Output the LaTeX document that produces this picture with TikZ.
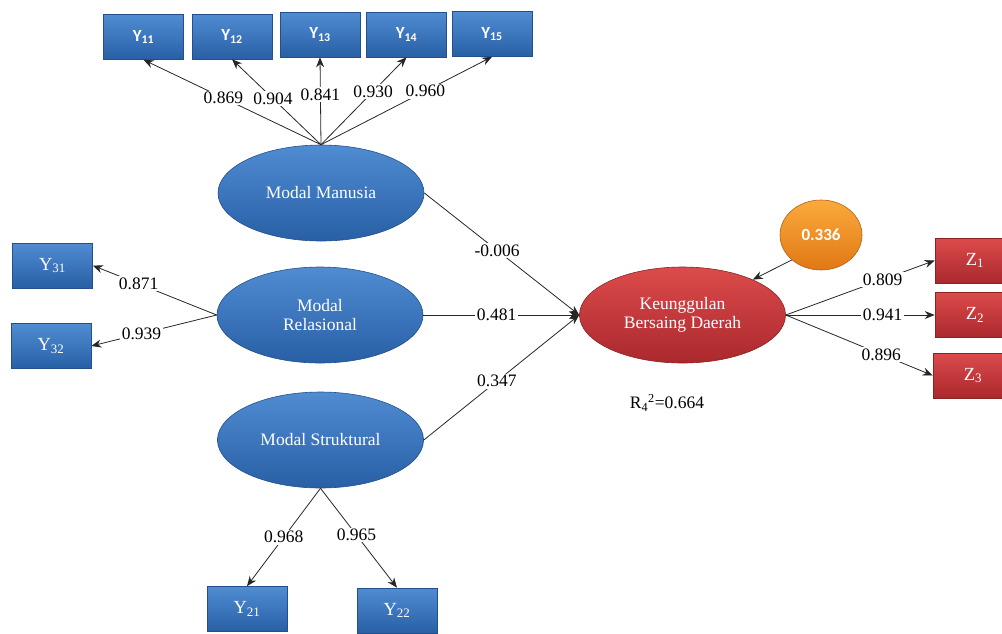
\documentclass[tikz,border=0pt]{standalone}
\usepackage{fontspec}
\setmainfont{Liberation Serif}
\newfontfamily\calib{Carlito}
\usetikzlibrary{shapes.geometric,arrows.meta}
\definecolor{bluetop}{RGB}{80,140,210}
\definecolor{bluebot}{RGB}{40,95,165}
\definecolor{blueedge}{RGB}{35,80,140}
\definecolor{redtop}{RGB}{220,75,75}
\definecolor{redbot}{RGB}{170,40,45}
\definecolor{rededge}{RGB}{140,35,35}
\definecolor{ortop}{RGB}{250,170,60}
\definecolor{orbot}{RGB}{225,120,20}
\tikzset{
  bbox/.style={rectangle, minimum width=80pt, minimum height=45pt, inner sep=0pt,
    top color=bluetop, bottom color=bluebot, draw=blueedge, line width=0.6pt, text=white},
  rbox/.style={rectangle, minimum width=80pt, minimum height=45pt, inner sep=0pt,
    top color=redtop, bottom color=redbot, draw=rededge, line width=0.6pt, text=white,
    font=\fontsize{18.5}{20}\selectfont},
  bfont/.style={font=\calib\bfseries\fontsize{17}{19}\selectfont},
  sfont/.style={font=\fontsize{18.5}{20}\selectfont},
  bell/.style={ellipse, minimum width=206pt, minimum height=96pt, inner sep=0pt,
    top color=bluetop, bottom color=bluebot, draw=blueedge, line width=0.6pt, text=white,
    align=center, font=\fontsize{17.5}{19.5}\selectfont},
  rell/.style={ellipse, minimum width=206pt, minimum height=96pt, inner sep=0pt,
    top color=redtop, bottom color=redbot, draw=rededge, line width=0.6pt, text=white,
    align=center, font=\fontsize{17.5}{19.5}\selectfont},
  conn/.style={draw=black!85, line width=0.8pt, -{Stealth[length=10pt,width=8pt]}},
  lbl/.style={fill=white, inner sep=1.5pt, font=\fontsize{17.5}{19}\selectfont}
}
\begin{document}
\begin{tikzpicture}[x=1pt,y=-1pt]
\useasboundingbox (0,0) rectangle (1002,633);
% top indicators
\node[bbox,bfont] (y11) at (143.5,37) {Y\textsubscript{11}};
\node[bbox,bfont] (y12) at (232,36.5) {Y\textsubscript{12}};
\node[bbox,bfont] (y13) at (320,34.5) {Y\textsubscript{13}};
\node[bbox,bfont] (y14) at (406.5,34.5) {Y\textsubscript{14}};
\node[bbox,bfont] (y15) at (492,34) {Y\textsubscript{15}};
% left indicators
\node[bbox,sfont] (y31) at (52.5,265.5) {Y\textsubscript{31}};
\node[bbox,sfont] (y32) at (51,346) {Y\textsubscript{32}};
% bottom indicators
\node[bbox,sfont] (y21) at (247,609) {Y\textsubscript{21}};
\node[bbox,sfont] (y22) at (397,610.5) {Y\textsubscript{22}};
% latent variables
\node[bell] (mm) at (321,193) {Modal Manusia};
\node[bell] (mr) at (320,315) {Modal\\Relasional};
\node[bell] (ms) at (320.5,440) {Modal Struktural};
\node[rell] (kb) at (682.5,315) {Keunggulan\\Bersaing Daerah};
\node[ellipse, minimum width=82pt, minimum height=70pt, inner sep=0pt,
  top color=ortop, bottom color=orbot, draw=orbot!80!black, line width=0.6pt,
  text=white, font=\calib\bfseries\fontsize{17}{19}\selectfont] (or) at (821,235) {0.336};
% Z indicators
\node[rbox] (z1) at (975,260.5) {Z\textsubscript{1}};
\node[rbox] (z2) at (975,315) {Z\textsubscript{2}};
\node[rbox] (z3) at (973,375.5) {Z\textsubscript{3}};
% top loadings
\draw[conn] (mm.north) -- node[lbl,pos=0.55] {0.869} (y11.south);
\draw[conn] (mm.north) -- node[lbl,pos=0.54] {0.904} (y12.south);
\draw[conn] (mm.north) -- node[lbl,pos=0.57] {0.841} (y13.south);
\draw[conn] (mm.north) -- node[lbl,pos=0.61] {0.930} (y14.south);
\draw[conn] (mm.north) -- node[lbl,pos=0.61] {0.960} (y15.south);
% left loadings
\draw[conn] (mr.west) -- node[lbl,pos=0.63] {0.871} (y31.east);
\draw[conn] (mr.west) -- node[lbl,pos=0.6] {0.939} (y32.east);
% bottom loadings
\draw[conn] (ms.south) -- node[lbl,pos=0.5] {0.968} (y21.north);
\draw[conn] (ms.south) -- node[lbl,pos=0.47] {0.965} (y22.north);
% structural paths
\draw[conn] (mm.east) -- node[lbl,pos=0.47] {-0.006} (kb.west);
\draw[conn] (mr.east) -- node[lbl,pos=0.47] {0.481} (kb.west);
\draw[conn] (ms.east) -- node[lbl,pos=0.47] {0.347} (kb.west);
% error
\draw[conn] (or.south west) -- (kb);
% Z loadings
\draw[conn] (kb.east) -- node[lbl,pos=0.65] {0.809} (z1.west);
\draw[conn] (kb.east) -- node[lbl,pos=0.65] {0.941} (z2.west);
\draw[conn] (kb.east) -- node[lbl,pos=0.65] {0.896} (z3.west);
\node[font=\fontsize{17.5}{19}\selectfont] (r2) at (667,403) {R\textsubscript{4}\textsuperscript{2}=0.664};
\end{tikzpicture}
\end{document}
